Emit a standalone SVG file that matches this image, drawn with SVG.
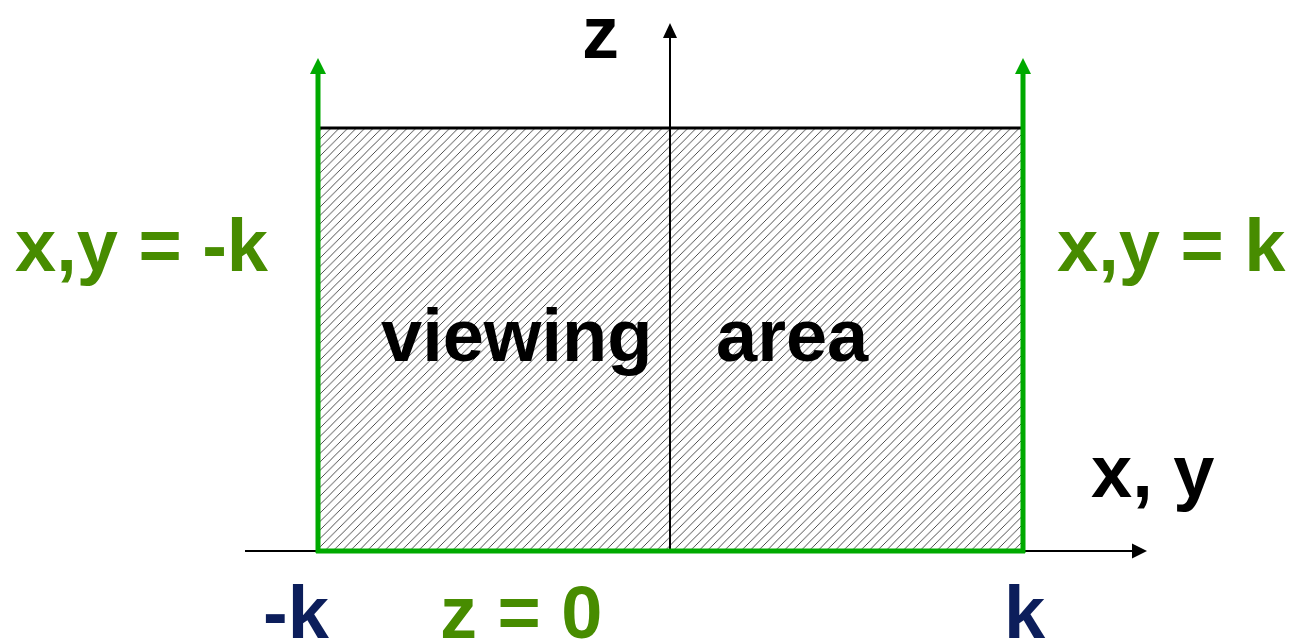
<svg xmlns="http://www.w3.org/2000/svg" width="1293" height="640" viewBox="0 0 1293 640">
<style>
.t{font-family:"Liberation Sans",Arial,sans-serif;font-weight:bold;font-size:74px}
.g{fill:#478c00}
.n{fill:#0c1e5b}
.b{fill:#000}
</style>
<defs>
<pattern id="hatch" patternUnits="userSpaceOnUse" width="8.5" height="8.5">
<path d="M-2,2 L2,-2 M0,8.5 L8.5,0 M6.5,10.5 L10.5,6.5" stroke="#111" stroke-width="0.75"/>
</pattern>
</defs>
<rect width="1293" height="640" fill="#fff"/>
<g id="area">
<rect x="318" y="128" width="705" height="423" fill="url(#hatch)"/>
</g>
<g id="connectors">
<line x1="318" y1="128" x2="1023" y2="128" stroke="#000" stroke-width="3"/>
<line x1="245" y1="551" x2="1134" y2="551" stroke="#000" stroke-width="2"/>
<polygon points="1147,551 1132,543.5 1132,558.5" fill="#000"/>
<line x1="670" y1="551" x2="670" y2="36" stroke="#000" stroke-width="2"/>
<polygon points="670,23 663,38 677,38" fill="#000"/>
<line x1="316" y1="551" x2="1025" y2="551" stroke="#00aa00" stroke-width="5"/>
<line x1="318" y1="553" x2="318" y2="72" stroke="#00aa00" stroke-width="5"/>
<polygon points="318,58 310,74 326,74" fill="#00aa00"/>
<line x1="1023" y1="553" x2="1023" y2="72" stroke="#00aa00" stroke-width="5"/>
<polygon points="1023,58 1015,74 1031,74" fill="#00aa00"/>
</g>
<g id="labels">
<text class="t b" x="582" y="58">z</text>
<text class="t g" x="15" y="271">x,y = -k</text>
<text class="t g" x="1057" y="271">x,y = k</text>
<text class="t b" x="381" y="361">viewing</text>
<text class="t b" x="716" y="361">area</text>
<text class="t b" x="1091" y="497">x, y</text>
<text class="t n" x="263" y="638">-k</text>
<text class="t g" x="440" y="638">z = 0</text>
<text class="t n" x="1004" y="638">k</text>
</g>
</svg>
